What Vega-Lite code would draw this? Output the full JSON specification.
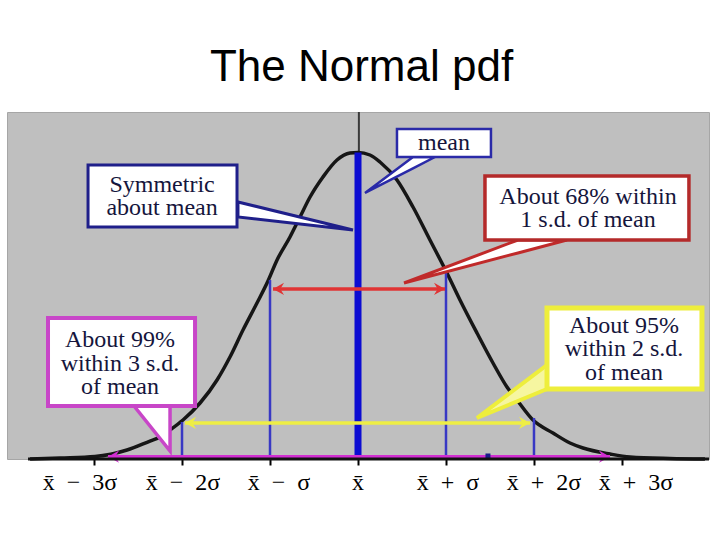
{
"$schema":"https://vega.github.io/schema/vega-lite/v6.json",
"width":702,"height":347,
"autosize":{"type":"none"},
"padding":{"left":7,"top":112,"right":11,"bottom":81},
"background":"#ffffff",
"config":{"view":{"fill":"#bfbfbf","stroke":"#a6a6a6","strokeWidth":1}},
"title":{"text":"The Normal pdf","font":"Liberation Sans","fontSize":44,"fontWeight":"normal","color":"#000000","anchor":"middle","dx":3.5,"dy":43,"baseline":"alphabetic","offset":29},
"datasets":{
"curve":[{"x":-3.727,"y":0},{"x":-3.386,"y":0.0033},{"x":-2.989,"y":0.0082},{"x":-2.625,"y":0.0294},{"x":-2.364,"y":0.0587},{"x":-2.25,"y":0.0718},{"x":-2.136,"y":0.0946},{"x":-1.989,"y":0.1272},{"x":-1.795,"y":0.1827},{"x":-1.602,"y":0.2578},{"x":-1.455,"y":0.3328},{"x":-1.307,"y":0.4209},{"x":-1.148,"y":0.509},{"x":-1.023,"y":0.5808},{"x":-0.92,"y":0.6493},{"x":-0.773,"y":0.7243},{"x":-0.659,"y":0.7896},{"x":-0.545,"y":0.8548},{"x":-0.398,"y":0.9201},{"x":-0.239,"y":0.9755},{"x":-0.091,"y":0.9984},{"x":0,"y":1.0},{"x":0.136,"y":0.9918},{"x":0.25,"y":0.969},{"x":0.443,"y":0.9103},{"x":0.625,"y":0.8222},{"x":0.818,"y":0.7145},{"x":1.011,"y":0.6069},{"x":1.159,"y":0.5188},{"x":1.352,"y":0.4111},{"x":1.534,"y":0.3132},{"x":1.693,"y":0.2349},{"x":1.807,"y":0.1925},{"x":1.989,"y":0.1272},{"x":2.216,"y":0.0848},{"x":2.409,"y":0.0522},{"x":2.557,"y":0.0359},{"x":2.864,"y":0.0163},{"x":3.091,"y":0.0065},{"x":3.545,"y":0.0016},{"x":3.943,"y":0}],
"vlines":[{"id":"axis","x":0.01,"y":1.0,"y2":1.1321},{"id":"sigma","x":-2,"y":0,"y2":0.1207},{"id":"sigma","x":-1,"y":0,"y2":0.584},{"id":"sigma","x":1,"y":0,"y2":0.6069},{"id":"sigma","x":2,"y":0,"y2":0.1338},{"id":"mu","x":0,"y":0,"y2":1.0}],
"arrows":[{"id":"red","x":-0.966,"x2":0.989,"y":0.5547},{"id":"yellow","x":-1.966,"x2":1.955,"y":0.1175},{"id":"magenta","x":-2.841,"x2":2.864,"y":0.0075}],
"heads":[{"id":"red","dir":"L","x":-0.966,"y":0.5547},{"id":"red","dir":"R","x":0.989,"y":0.5547},{"id":"yellow","dir":"L","x":-1.966,"y":0.1175},{"id":"yellow","dir":"R","x":1.955,"y":0.1175},{"id":"magenta","dir":"L","x":-2.841,"y":0.0075},{"id":"magenta","dir":"R","x":2.864,"y":0.0075}],
"dot":[{"x":1.477,"y":0.0098}],
"base":[{"x":-3.75,"x2":3.989,"y":0}],
"boxes":[{"id":"mean","x":0.443,"x2":1.511,"y":1.0767,"y2":0.9853},{"id":"sym","x":-3.068,"x2":-1.375,"y":0.9592,"y2":0.7569},{"id":"p68","x":1.443,"x2":3.761,"y":0.9233,"y2":0.7145},{"id":"p99","x":-3.523,"x2":-1.852,"y":0.46,"y2":0.1729},{"id":"p95","x":2.148,"x2":3.909,"y":0.4927,"y2":0.2284}],
"wedges":[{"id":"mean","x":0.0795,"y":0.8679,"y2":0.8679},{"id":"mean","x":0.625,"y":0.9853,"y2":0.9484},{"id":"mean","x":0.875,"y":0.9853,"y2":0.9853},{"id":"sym","x":-1.364,"y":0.8385,"y2":0.7896},{"id":"sym","x":-0.057,"y":0.7471,"y2":0.7471},{"id":"p68","x":0.523,"y":0.5742,"y2":0.5742},{"id":"p68","x":1.818,"y":0.7145,"y2":0.6723},{"id":"p68","x":2.375,"y":0.7145,"y2":0.7145},{"id":"p99","x":-2.545,"y":0.1729,"y2":0.1729},{"id":"p99","x":-2.136,"y":0.1729,"y2":0.0261},{"id":"p95","x":1.352,"y":0.1338,"y2":0.1338},{"id":"p95","x":2.148,"y":0.3067,"y2":0.2284}],
"notes":[{"t":["mean"],"x":0.977,"y":1.0082},{"t":["Symmetric","about mean"],"x":-2.227,"y":0.8711},{"t":["About 68% within","1 s.d. of mean"],"x":2.614,"y":0.832},{"t":["About 99%","within 3 s.d.","of mean"],"x":-2.705,"y":0.3654},{"t":["About 95%","within 2 s.d.","of mean"],"x":3.023,"y":0.4111}],
"ticklabels":[{"t":"x\u0304\u2002\u2212\u20023\u03c3","x":-3.159,"y":-0.1011},{"t":"x\u0304\u2002\u2212\u20022\u03c3","x":-1.989,"y":-0.1011},{"t":"x\u0304\u2002\u2212\u2002\u03c3","x":-0.898,"y":-0.1011},{"t":"x\u0304","x":0,"y":-0.1011},{"t":"x\u0304\u2002+\u2002\u03c3","x":1.023,"y":-0.1011},{"t":"x\u0304\u2002+\u20022\u03c3","x":2.114,"y":-0.1011},{"t":"x\u0304\u2002+\u20023\u03c3","x":3.159,"y":-0.1011}]
},
"encoding":{
"x":{"field":"x","type":"quantitative","scale":{"domain":[-3.989,3.989],"nice":false,"zero":false},
"axis":{"title":null,"values":[-3,-2,-1,0,1,2,3],"domain":false,"grid":false,"ticks":true,"tickColor":"#000000","tickWidth":2,"tickSize":6,"labels":false}},
"y":{"field":"y","type":"quantitative","scale":{"domain":[0,1.1321],"nice":false,"zero":false},"axis":null}
},
"layer":[
{"data":{"name":"vlines"},"transform":[{"filter":"datum.id == 'axis'"}],"mark":{"type":"rule","color":"#3a3a3a","strokeWidth":2},"encoding":{"y2":{"field":"y2"}}},
{"data":{"name":"curve"},"mark":{"type":"line","color":"#161616","strokeWidth":3.5,"interpolate":"monotone"},"encoding":{}},
{"data":{"name":"vlines"},"transform":[{"filter":"datum.id == 'sigma'"}],"mark":{"type":"rule","color":"#3838c4","strokeWidth":2.5},"encoding":{"y2":{"field":"y2"}}},
{"data":{"name":"vlines"},"transform":[{"filter":"datum.id == 'mu'"}],"mark":{"type":"rule","color":"#0c0cd2","strokeWidth":7},"encoding":{"y2":{"field":"y2"}}},
{"data":{"name":"arrows"},"mark":{"type":"rule","strokeWidth":3.5,"strokeCap":"butt"},"encoding":{"x2":{"field":"x2"},"color":{"field":"id","type":"nominal","scale":{"domain":["red","yellow","magenta"],"range":["#e03434","#eeee44","#d22ed2"]},"legend":null}}},
{"data":{"name":"heads"},"mark":{"type":"point","filled":true,"opacity":1,"size":150},"encoding":{"color":{"field":"id","type":"nominal","scale":{"domain":["red","yellow","magenta"],"range":["#e03434","#eeee44","#d22ed2"]},"legend":null},"shape":{"field":"dir","type":"nominal","scale":{"domain":["L","R"],"range":["M0,0L1.8,-1L1.2,0L1.8,1Z","M0,0L-1.8,-1L-1.2,0L-1.8,1Z"]},"legend":null}}},
{"data":{"name":"dot"},"mark":{"type":"square","color":"#1a1a8a","opacity":1,"size":25},"encoding":{}},
{"data":{"name":"base"},"mark":{"type":"rule","color":"#111111","strokeWidth":3},"encoding":{"x2":{"field":"x2"}}},
{"data":{"name":"wedges"},"transform":[{"filter":"datum.id == 'mean'"}],"mark":{"type":"area","fill":"#ffffff","stroke":"#2a2aa8","strokeWidth":2.5,"opacity":1,"fillOpacity":1},"encoding":{"y2":{"field":"y2"}}},
{"data":{"name":"wedges"},"transform":[{"filter":"datum.id == 'sym'"}],"mark":{"type":"area","fill":"#ffffff","stroke":"#1f1f8a","strokeWidth":3,"opacity":1,"fillOpacity":1},"encoding":{"y2":{"field":"y2"}}},
{"data":{"name":"wedges"},"transform":[{"filter":"datum.id == 'p68'"}],"mark":{"type":"area","fill":"#ffffff","stroke":"#c02a2a","strokeWidth":3,"opacity":1,"fillOpacity":1},"encoding":{"y2":{"field":"y2"}}},
{"data":{"name":"wedges"},"transform":[{"filter":"datum.id == 'p99'"}],"mark":{"type":"area","fill":"#ffffff","stroke":"#c846c8","strokeWidth":3.5,"opacity":1,"fillOpacity":1},"encoding":{"y2":{"field":"y2"}}},
{"data":{"name":"wedges"},"transform":[{"filter":"datum.id == 'p95'"}],"mark":{"type":"area","fill":"#f6f6a0","stroke":"#eeee3c","strokeWidth":4,"opacity":1,"fillOpacity":1},"encoding":{"y2":{"field":"y2"}}},
{"data":{"name":"boxes"},"transform":[{"filter":"datum.id == 'mean'"}],"mark":{"type":"rect","fill":"#ffffff","stroke":"#2a2aa8","strokeWidth":2.5,"opacity":1},"encoding":{"x2":{"field":"x2"},"y2":{"field":"y2"}}},
{"data":{"name":"boxes"},"transform":[{"filter":"datum.id == 'sym'"}],"mark":{"type":"rect","fill":"#ffffff","stroke":"#1f1f8a","strokeWidth":3,"opacity":1},"encoding":{"x2":{"field":"x2"},"y2":{"field":"y2"}}},
{"data":{"name":"boxes"},"transform":[{"filter":"datum.id == 'p68'"}],"mark":{"type":"rect","fill":"#ffffff","stroke":"#b42a2a","strokeWidth":3.5,"opacity":1},"encoding":{"x2":{"field":"x2"},"y2":{"field":"y2"}}},
{"data":{"name":"boxes"},"transform":[{"filter":"datum.id == 'p99'"}],"mark":{"type":"rect","fill":"#ffffff","stroke":"#c846c8","strokeWidth":4,"opacity":1},"encoding":{"x2":{"field":"x2"},"y2":{"field":"y2"}}},
{"data":{"name":"boxes"},"transform":[{"filter":"datum.id == 'p95'"}],"mark":{"type":"rect","fill":"#ffffff","stroke":"#eeee3c","strokeWidth":5,"opacity":1},"encoding":{"x2":{"field":"x2"},"y2":{"field":"y2"}}},
{"data":{"name":"notes"},"mark":{"type":"text","font":"Liberation Serif","fontSize":24,"lineHeight":23.5,"color":"#15153c","align":"center","baseline":"alphabetic"},"encoding":{"text":{"field":"t","type":"nominal"}}},
{"data":{"name":"ticklabels"},"mark":{"type":"text","font":"Liberation Serif","fontSize":24,"color":"#000000","align":"center","baseline":"alphabetic"},"encoding":{"text":{"field":"t","type":"nominal"}}}
]
}
